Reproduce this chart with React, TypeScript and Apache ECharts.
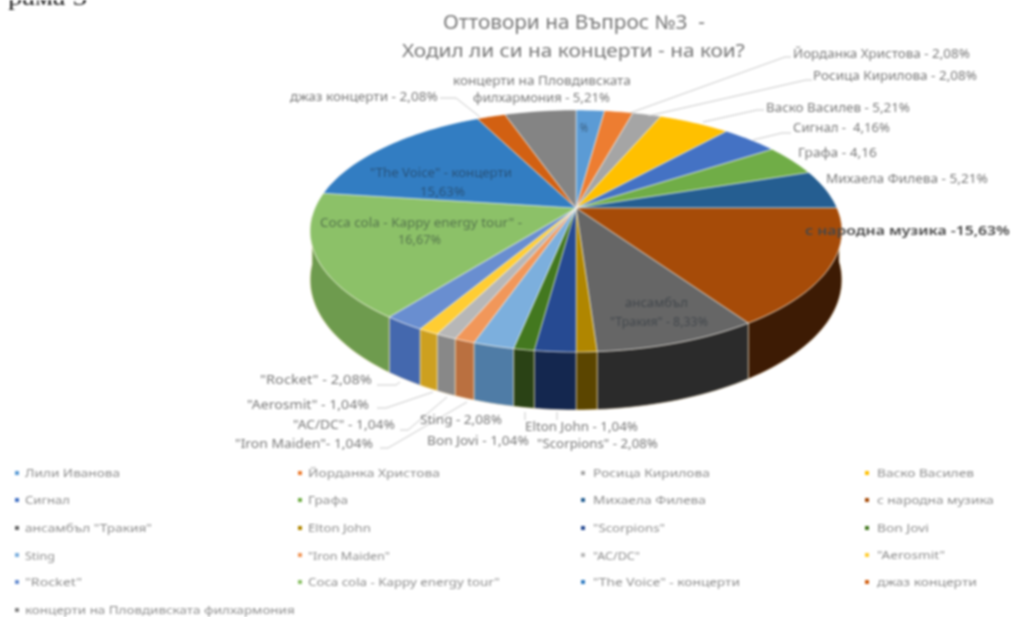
import React, { useEffect, useRef } from "react";
import * as echarts from "echarts";

const NAMES = ["Лили Иванова","Йорданка Христова","Росица Кирилова","Васко Василев","Сигнал","Графа","Михаела Филева","с народна музика","ансамбъл \"Тракия\"","Elton John","\"Scorpions\"","Bon Jovi","Sting","\"Iron Maiden\"","\"AC/DC\"","\"Aerosmit\"","\"Rocket\"","Coca cola - Kappy energy tour\"","\"The Voice\" - концерти","джаз концерти","концерти на Пловдивската филхармония"];
const VALUES = [2.08,2.08,2.08,5.21,4.16,4.16,5.21,15.63,8.33,1.04,2.08,1.04,2.08,1.04,1.04,1.04,2.08,16.67,15.63,2.08,5.21];
const COLORS = ["#5B9BD5","#ED7D31","#A5A5A5","#FFC000","#4472C4","#70AD47","#255E91","#A64B08","#666666","#B08600","#264A92","#43781F","#7CAFDD","#F1975A","#B7B7B7","#FFCD33","#698ED0","#8CC168","#327DC2","#D26012","#848484"];
const WALL_COLORS = ["#4A7CAA","#BE6427","#848484","#CC9A00","#365B9D","#5A8A39","#1D4B74","#3D1B04","#2B2B2B","#5B4500","#14274F","#2A4215","#4F7CA6","#BA7040","#888888","#CDA020","#4468AE","#6E9B4E","#285F9B","#A84D0E","#6A6A6A"];

const LEGEND_X = [25, 308, 593, 877];
const LEGEND_Y = [473, 500, 528, 555, 582, 610];
const LEGEND_MARK_X = [17, 300, 583, 867];
const LEGEND_WIDTHS = [95,132,117,97,45,40,113,117,127,63,72,52,30,82,47,68,57,192,147,100,270];

const TITLE_LINES = ["Оттовори на Въпрос №3  -", "Ходил ли си на концерти - на кои?"];
const CORNER_TEXT = "рама 3";

// [text, x, y, width]
const LABELS: [string, number, number, number][] = [
  ["Йорданка Христова - 2,08%", 793, 53, 177],
  ["Росица Кирилова - 2,08%", 813, 75, 164],
  ["Васко Василев - 5,21%", 766, 107, 144],
  ["Сигнал -  4,16%", 793, 128, 97],
  ["Графа - 4,16", 798, 152, 79],
  ["Михаела Филева - 5,21%", 826, 178, 162],
  ["концерти на Пловдивската", 453, 80, 178],
  ["филхармония - 5,21%", 473, 98, 137],
  ["джаз концерти - 2,08%", 290, 96, 148],
  ["\"Rocket\" - 2,08%", 260, 380, 112],
  ["\"Aerosmit\" - 1,04%", 247, 404, 122],
  ["\"AC/DC\" - 1,04%", 293, 424, 102],
  ["Sting - 2,08%", 420, 419, 82],
  ["\"Iron Maiden\"- 1,04%", 235, 443, 138],
  ["Bon Jovi - 1,04%", 427, 440, 102],
  ["Elton John - 1,04%", 525, 426, 113],
  ["\"Scorpions\" - 2,08%", 537, 443, 121],
];
const SLICE_LABELS: [string, number, number, number][] = [
  ["\"The Voice\" - концерти", 370, 172, 142],
  ["15,63%", 420, 191, 45],
  ["Coca cola - Kappy energy tour\" -", 320, 222, 202],
  ["16,67%", 398, 240, 43],
  ["ансамбъл", 625, 303, 63],
  ["\"Тракия\" - 8,33%", 610, 322, 98],
  ["%", 580, 127, 8],
];
const STRONG_LABEL = "с народна музика -15,63%";

const LEADERS: number[][][] = [
  [[630, 113], [785, 57], [791, 57]],
  [[648, 116], [806, 80], [812, 80]],
  [[703, 122], [757, 110], [764, 110]],
  [[753, 140], [782, 133], [791, 133]],
  [[440, 98], [456, 98], [480, 117]],
  [[377, 385], [396, 385], [400, 382]],
  [[377, 408], [386, 408], [433, 392]],
  [[400, 430], [408, 430], [447, 397]],
  [[380, 448], [388, 448], [467, 402]],
  [[525, 412], [525, 420]],
  [[557, 412], [557, 420]],
];

const FONT = '"Noto Sans", sans-serif';
const CX = 576, CY = 208, R = 261, A = 116.6, K = 0.19, DEPTH = 47;

const total = VALUES.reduce((a, b) => a + b, 0);
let run = 0;
const seriesData = VALUES.map((v, i) => {
  const row = [v, run, i];
  run += v;
  return { name: NAMES[i], value: row };
});

function project(frac: number) {
  const t = 2 * Math.PI * frac;
  const f = -Math.cos(t);
  const s = 1 / (1 - K * f);
  return { x: CX + R * Math.sin(t) * s, y: CY + A * f * s, f, s };
}

function arc(from: number, to: number) {
  const n = Math.max(2, Math.ceil((to - from) * 240));
  const out: ReturnType<typeof project>[] = [];
  for (let i = 0; i <= n; i++) out.push(project(from + ((to - from) * i) / n));
  return out;
}

const renderWall = (_: any, api: any) => {
  const from = api.value(1) / total, to = from + api.value(0) / total;
  const pts = arc(from, to).filter((p) => p.f > 0.05);
  if (pts.length < 2) return { type: "group", children: [] };
  const top = pts.map((p) => [p.x, p.y]);
  const bottom = pts.map((p) => [p.x, p.y + DEPTH * p.s]).reverse();
  return {
    type: "polygon",
    shape: { points: top.concat(bottom) },
    style: { fill: WALL_COLORS[api.value(2)], stroke: "rgba(255,235,200,0.55)", lineWidth: 1 },
  };
};

const renderTop = (_: any, api: any) => {
  const from = api.value(1) / total, to = from + api.value(0) / total;
  const pts = arc(from, to).map((p) => [p.x, p.y]);
  return {
    type: "polygon",
    shape: { points: [[CX, CY], ...pts] },
    style: { fill: COLORS[api.value(2)], stroke: "rgba(255,255,255,0.5)", lineWidth: 1 },
  };
};

export default function App() {
  const ref = useRef<HTMLDivElement>(null);
  useEffect(() => {
    const chart = echarts.init(ref.current!, null, { renderer: "svg" });
    const ctx = document.createElement("canvas").getContext("2d")!;
    const fit = (s: string, x: number, y: number, width: number, size: number, fill: string, weight = 400, font = FONT) => {
      const f = `${weight} ${size}px ${font}`;
      ctx.font = f;
      const scaleX = width / ctx.measureText(s).width;
      return { type: "text", x, y, scaleX, z: 10, style: { text: s, fill, font: f, textAlign: "left", textVerticalAlign: "middle" } };
    };
    const legend: any[] = [];
    NAMES.forEach((n, i) => {
      const col = i % 4, row = Math.floor(i / 4);
      legend.push({ type: "rect", shape: { x: LEGEND_MARK_X[col] - 2, y: LEGEND_Y[row] - 2, width: 4, height: 4 }, style: { fill: COLORS[i] } });
      legend.push(fit(n, LEGEND_X[col], LEGEND_Y[row], LEGEND_WIDTHS[i], 11, "#8e8e8e"));
    });
    chart.setOption({
      animation: false,
      backgroundColor: "#fff",
      series: [
        { type: "custom", coordinateSystem: "none", data: seriesData, renderItem: renderWall, silent: true, z: 1 },
        { type: "custom", coordinateSystem: "none", data: seriesData, renderItem: renderTop, silent: true, z: 2 },
      ],
      graphic: {
        elements: [
          fit(CORNER_TEXT, 8, -3, 79, 24, "#222", 400, '"Liberation Serif", serif'),
          fit(TITLE_LINES[0], 443, 22, 262, 19, "#777777"),
          fit(TITLE_LINES[1], 402, 50, 343, 19, "#777777"),
          ...LEADERS.map((points) => ({ type: "polyline", z: 5, shape: { points }, style: { stroke: "#c8c8c8", lineWidth: 1, fill: "none" } })),
          ...LABELS.map(([s, x, y, w]) => fit(s, x, y, w, 12, "#7a7a7a")),
          ...SLICE_LABELS.map(([s, x, y, w]) => fit(s, x, y, w, 12, "rgba(30,40,50,0.5)")),
          fit(STRONG_LABEL, 805, 230, 205, 13, "#484848", 600),
          ...legend,
        ],
      },
    });
    return () => chart.dispose();
  }, []);
  return <div ref={ref} style={{ position: "absolute", left: 0, top: 0, width: 1022, height: 617, filter: "blur(0.8px)" }} />;
}
